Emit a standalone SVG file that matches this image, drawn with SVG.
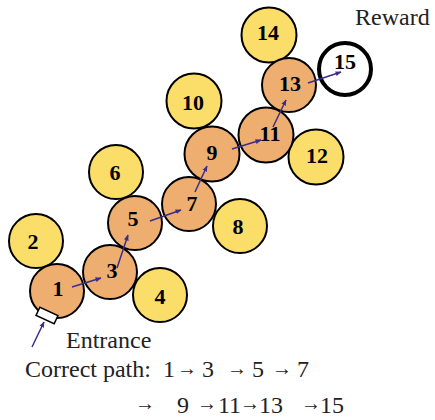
<svg xmlns="http://www.w3.org/2000/svg" width="435" height="420" viewBox="0 0 435 420">
<defs>
<style>
.y{fill:#FBDE6A;stroke:#000;stroke-width:2}
.o{fill:#EDAE70;stroke:#000;stroke-width:2}
.n{font-family:"Liberation Serif",serif;font-weight:bold;font-size:22px;text-anchor:middle;fill:#000}
.t{font-family:"Liberation Serif",serif;font-size:24px;fill:#222}
.r{font-family:"Liberation Serif","DejaVu Serif",serif;font-size:20px;font-weight:bold;fill:#222}
.a{stroke:#3A2E8C;stroke-width:1.5;fill:none;marker-end:url(#ah)}
</style>
<marker id="ah" viewBox="0 0 10 10" refX="9" refY="5" markerWidth="6" markerHeight="6" orient="auto" markerUnits="userSpaceOnUse">
<path d="M0,1 L10,5 L0,9 Z" fill="#3A2E8C"/>
</marker>
</defs>
<rect width="435" height="420" fill="#fff"/>
<g id="n2"><circle class="y" cx="36" cy="241" r="27"/><text class="n" x="33" y="249">2</text></g>
<g id="n4"><circle class="y" cx="160" cy="295" r="27"/><text class="n" x="160" y="304">4</text></g>
<g id="n6"><circle class="y" cx="116" cy="172" r="27"/><text class="n" x="115" y="180">6</text></g>
<g id="n8"><circle class="y" cx="240" cy="226" r="27"/><text class="n" x="238" y="234">8</text></g>
<g id="n10"><circle class="y" cx="194" cy="101" r="27.5"/><text class="n" x="193" y="110">10</text></g>
<g id="n12"><circle class="y" cx="316" cy="157" r="27.5"/><text class="n" x="317" y="163">12</text></g>
<g id="n14"><circle class="y" cx="269" cy="35" r="27.5"/><text class="n" x="268" y="40">14</text></g>
<g id="n1"><circle class="o" cx="57" cy="291" r="27"/><text class="n" x="58" y="296">1</text></g>
<g id="n3"><circle class="o" cx="110" cy="272" r="27"/><text class="n" x="112" y="278">3</text></g>
<g id="n5"><circle class="o" cx="135" cy="223" r="27"/><text class="n" x="133" y="226">5</text></g>
<g id="n7"><circle class="o" cx="189" cy="204" r="27"/><text class="n" x="192" y="211">7</text></g>
<g id="n9"><circle class="o" cx="212" cy="154" r="27.5"/><text class="n" x="212" y="160">9</text></g>
<g id="n11"><circle class="o" cx="266" cy="135" r="27.5"/><text class="n" x="270" y="141">11</text></g>
<g id="n13"><circle class="o" cx="289" cy="85" r="27"/><text class="n" x="290" y="91">13</text></g>
<g id="n15"><circle cx="345" cy="69" r="26" fill="#fff" stroke="#000" stroke-width="4"/><text class="n" x="345" y="69">15</text></g>
<g id="entrance"><rect x="-10" y="-4.5" width="20" height="9" fill="#fff" stroke="#000" stroke-width="1.5" transform="translate(47,315.5) rotate(25)"/><text class="t" x="66" y="348">Entrance</text></g>
<g id="reward"><text class="t" x="355" y="25">Reward</text></g>
<g id="connectors">
<line class="a" x1="32" y1="347" x2="44" y2="322"/>
<line class="a" x1="72" y1="287" x2="101" y2="278"/>
<line class="a" x1="117" y1="268" x2="128" y2="235"/>
<line class="a" x1="150" y1="221" x2="181" y2="210"/>
<line class="a" x1="195" y1="192" x2="207" y2="166"/>
<line class="a" x1="232" y1="149" x2="261" y2="140"/>
<line class="a" x1="273" y1="127" x2="286" y2="100"/>
<line class="a" x1="308" y1="83" x2="341" y2="72"/>
</g>
<g id="path-text">
<text class="t" x="25" y="377">Correct path:</text>
<text class="t" x="163" y="377">1</text>
<text class="r" x="177" y="375">→</text>
<text class="t" x="202" y="377">3</text>
<text class="r" x="227" y="375">→</text>
<text class="t" x="252" y="377">5</text>
<text class="r" x="272" y="375">→</text>
<text class="t" x="297" y="377">7</text>
<text class="r" x="135" y="410">→</text>
<text class="t" x="177" y="413">9</text>
<text class="r" x="197" y="410">→</text>
<text class="t" x="218" y="413">11</text>
<text class="r" x="240" y="410">→</text>
<text class="t" x="259" y="413">13</text>
<text class="r" x="301" y="410">→</text>
<text class="t" x="320" y="413">15</text>
</g>
</svg>
